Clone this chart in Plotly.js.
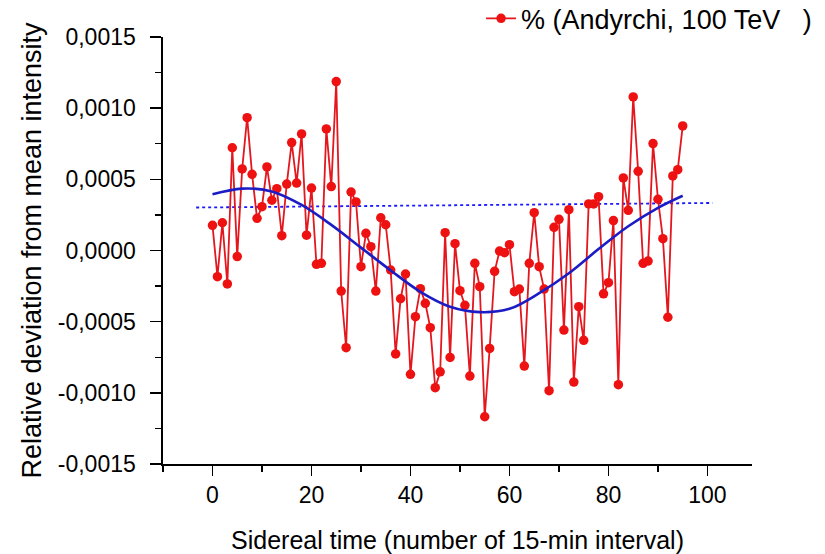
<!DOCTYPE html>
<html>
<head>
<meta charset="utf-8">
<script src="https://cdn.plot.ly/plotly-3.0.1.min.js"></script>
<style>html,body{margin:0;padding:0;background:#fff;}#chart{width:825px;height:554px;}</style>
</head>
<body>
<div id="chart"></div>
<script>
// Sidereal time index (15-min intervals)
const timeIdx = Array.from({length: 96}, (_, i) => i);
// Relative deviation from mean intensity (Andyrchi, 100 TeV)
const deviation = [
  0.000177, -0.000184, 0.000195, -0.000235, 0.000722, -0.000043, 0.000573, 0.000933, 0.000535, 0.000226,
  0.000308, 0.000587, 0.000353, 0.000434, 0.000104, 0.000467, 0.000758, 0.000474, 0.000819, 0.000108,
  0.000439, -0.000097, -0.000090, 0.000854, 0.000449, 0.001187, -0.000285, -0.000683, 0.000411, 0.000341,
  -0.000114, 0.000121, 0.000027, -0.000285, 0.000230, 0.000181, -0.000137, -0.000727, -0.000339, -0.000165,
  -0.000870, -0.000465, -0.000268, -0.000371, -0.000542, -0.000964, -0.000852, 0.000125, -0.000751, 0.000048,
  -0.000282, -0.000385, -0.000882, -0.000090, -0.000254, -0.001168, -0.000688, -0.000146, -0.000004, -0.000015,
  0.000041, -0.000289, -0.000271, -0.000812, -0.000090, 0.000266, -0.000114, -0.000271, -0.000985, 0.000163,
  0.000219, -0.000559, 0.000287, -0.000924, -0.000395, -0.000631, 0.000327, 0.000327, 0.000378, -0.000304,
  -0.000226, 0.000210, -0.000943, 0.000510, 0.000282, 0.001079, 0.000556, -0.000090, -0.000074, 0.000751,
  0.000360, 0.000083, -0.000469, 0.000524, 0.000568, 0.000875
];
// Fitted harmonic curve
const fitX = [0, 6, 12, 18, 24, 30, 36, 42, 48, 54, 60, 66, 72, 78, 84, 90, 95];
const fitY = [0.000395, 0.000435, 0.000415, 0.00032, 0.00018, 0.00002, -0.00014, -0.00029, -0.000395, -0.000433,
              -0.00041, -0.0003, -0.00016, 0.00001, 0.00017, 0.0003, 0.000385];
// Dotted reference level
const refX = [-3.3, 101];
const refY = [0.000302, 0.000334];
// Tick labels
const yTickVals = [-0.0015, -0.001, -0.0005, 0, 0.0005, 0.001, 0.0015];
const yTickText = ['-0,0015', '-0,0010', '-0,0005', '0,0000', '0,0005', '0,0010', '0,0015'];
const xTickVals = [0, 20, 40, 60, 80, 100];
const xTickText = ['0', '20', '40', '60', '80', '100'];
const seriesName = '% (Andyrchi, 100 TeV\u00a0\u00a0\u00a0)';

const FONT = 'Liberation Sans, Arial, sans-serif';

const traces = [
  {
    x: refX, y: refY, type: 'scatter', mode: 'lines', showlegend: false, hoverinfo: 'skip',
    line: {color: '#1a1aff', width: 1.8, dash: 'dot'}
  },
  {
    x: timeIdx, y: deviation, type: 'scatter', mode: 'lines+markers', name: seriesName,
    line: {color: '#e3171d', width: 1.8},
    marker: {color: '#ee1111', size: 9.5, line: {width: 0}}
  },
  {
    x: fitX, y: fitY, type: 'scatter', mode: 'lines', showlegend: false, hoverinfo: 'skip',
    line: {color: '#1c1cc4', width: 2.6, shape: 'spline', smoothing: 1}
  }
];

const layout = {
  width: 825, height: 554,
  paper_bgcolor: '#fff', plot_bgcolor: '#fff',
  margin: {l: 163, r: 73, t: 37, b: 90, autoexpand: false},
  font: {family: FONT, color: '#000', size: 22},
  showlegend: true,
  legend: {
    x: 0.54, y: 1.1, xanchor: 'left', yanchor: 'top',
    bgcolor: 'rgba(0,0,0,0)', font: {family: FONT, size: 27, color: '#000'}
  },
  xaxis: {
    range: [-10, 109], showgrid: false, zeroline: false,
    showline: true, linecolor: '#000', linewidth: 1.6,
    ticks: 'outside', ticklen: 10, tickwidth: 1.6, tickcolor: '#000',
    tickvals: xTickVals, ticktext: xTickText,
    tickfont: {family: FONT, size: 23},
    minor: {dtick: 10, tick0: 0, ticks: 'outside', ticklen: 6, tickwidth: 1.4, tickcolor: '#000'},
    title: {text: 'Sidereal time (number of 15-min interval)', font: {family: FONT, size: 25}, standoff: 26},
    automargin: false
  },
  yaxis: {
    range: [-0.0015, 0.0015], showgrid: false, zeroline: false,
    showline: true, linecolor: '#000', linewidth: 1.6,
    ticks: 'outside', ticklen: 11, tickwidth: 1.6, tickcolor: '#000',
    tickvals: yTickVals, ticktext: yTickText,
    tickfont: {family: FONT, size: 23},
    ticklabelstandoff: 10,
    minor: {dtick: 0.00025, tick0: 0, ticks: 'outside', ticklen: 6, tickwidth: 1.4, tickcolor: '#000'},
    title: {text: 'Relative deviation from mean intensity', font: {family: FONT, size: 27}, standoff: 8},
    automargin: false
  }
};

Plotly.newPlot('chart', traces, layout, {displayModeBar: false, staticPlot: true});
</script>
</body>
</html>
